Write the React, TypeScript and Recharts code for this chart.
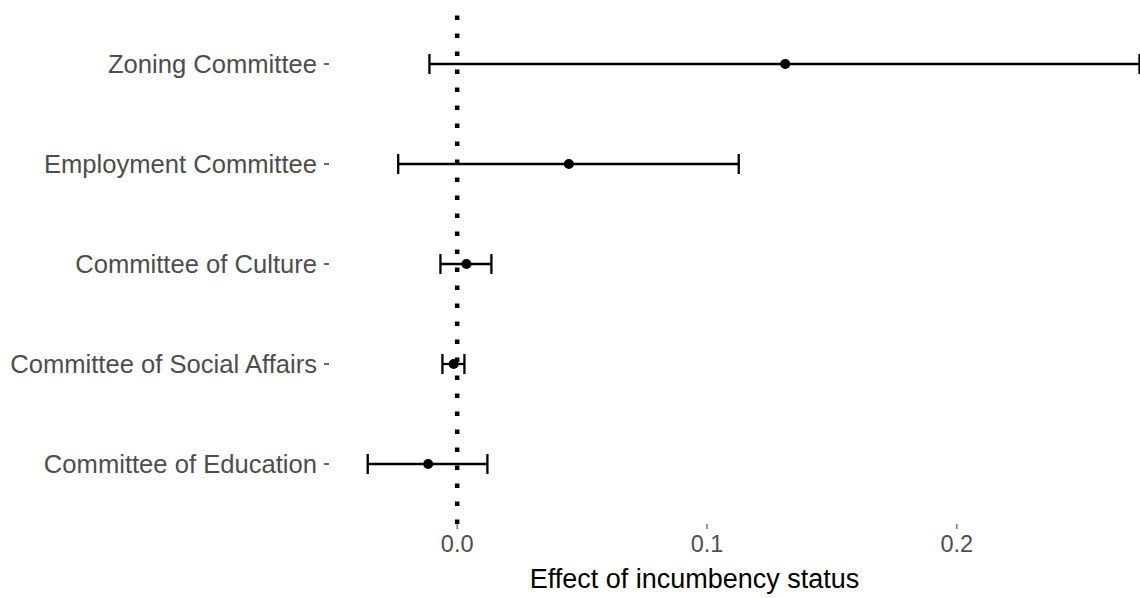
import { ScatterChart, Scatter, XAxis, YAxis, ErrorBar, ReferenceLine, Label } from 'recharts';

const committees = [
  'Committee of Education',
  'Committee of Social Affairs',
  'Committee of Culture',
  'Employment Committee',
  'Zoning Committee',
];
const estimates = [-0.0116, -0.0014, 0.0037, 0.0447, 0.1313];
const lower = [-0.0358, -0.0059, -0.0067, -0.0236, -0.0111];
const upper = [0.0121, 0.0029, 0.0137, 0.1127, 0.2731];
const xTicks = [0, 0.1, 0.2];

const data = committees.map((name, i) => ({
  pos: i + 1,
  name,
  est: estimates[i],
  err: [estimates[i] - lower[i], upper[i] - estimates[i]],
}));

const font = '"Liberation Sans", Arial, sans-serif';

export default function App() {
  return (
    <div style={{ position: 'absolute', left: 0, top: 0, width: 1140, height: 598, background: '#fff' }}>
      <ScatterChart width={1140} height={598} margin={{ top: 4, right: 0, bottom: 0, left: 0 }}>
        <XAxis
          type="number"
          dataKey="est"
          domain={[-0.0513, 0.2733]}
          allowDataOverflow
          ticks={xTicks}
          tickFormatter={(v: number) => v.toFixed(1)}
          axisLine={false}
          tickSize={5}
          tickMargin={6}
          tickLine={{ stroke: '#333333' }}
          tick={{ fill: '#4D4D4D', fontSize: 23.5, fontFamily: font }}
          height={74}
        >
          <Label
            value="Effect of incumbency status"
            position="insideBottom"
            offset={10}
            dx={-40}
            style={{ fill: '#000', fontSize: 27, fontFamily: font }}
          />
        </XAxis>
        <YAxis
          type="number"
          dataKey="pos"
          domain={[0.4, 5.6]}
          ticks={[1, 2, 3, 4, 5]}
          tickFormatter={(v: number) => committees[v - 1] ?? ''}
          axisLine={false}
          tickSize={5}
          tickMargin={7}
          tickLine={{ stroke: '#333333', strokeWidth: 1.5 }}
          tick={{ fill: '#4D4D4D', fontSize: 25.6, fontFamily: font }}
          width={329}
        />
        <Scatter
          data={data}
          isAnimationActive={false}
          fill="#000"
          shape={(p: any) => <circle cx={p.cx} cy={p.cy} r={5} fill="#000" />}
        >
          <ErrorBar dataKey="err" direction="x" width={10} strokeWidth={2.3} stroke="#000" />
        </Scatter>
        <ReferenceLine x={0} stroke="#000" strokeWidth={4.5} strokeDasharray="4.5 13.5" />
      </ScatterChart>
    </div>
  );
}
